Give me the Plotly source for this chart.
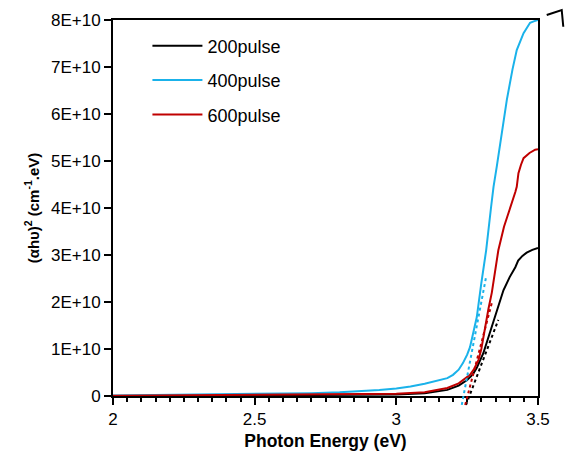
import plotly.graph_objects as go

# ---- data (values in absolute units) ----
x_200 = [2.0, 2.5, 2.94, 3.0, 3.1, 3.18, 3.22, 3.25, 3.27, 3.284, 3.307, 3.33, 3.355,
         3.378, 3.40, 3.42, 3.43, 3.445, 3.46, 3.48, 3.5]
y_200 = [0.0, 0.01e10, 0.02e10, 0.03e10, 0.06e10, 0.13e10, 0.22e10, 0.34e10, 0.46e10,
         0.60e10, 0.91e10, 1.34e10, 1.83e10, 2.25e10, 2.53e10, 2.74e10, 2.88e10, 2.98e10,
         3.05e10, 3.11e10, 3.15e10]

x_400 = [2.0, 2.2, 2.4, 2.6, 2.7, 2.8, 2.9, 2.94, 3.0, 3.05, 3.1, 3.15, 3.18, 3.2, 3.22,
         3.235, 3.25, 3.26, 3.27, 3.284, 3.30, 3.317, 3.334, 3.343, 3.355, 3.372, 3.39,
         3.41, 3.425, 3.449, 3.472, 3.485, 3.495, 3.5]
y_400 = [0.01e10, 0.02e10, 0.03e10, 0.05e10, 0.06e10, 0.08e10, 0.11e10, 0.13e10, 0.16e10,
         0.20e10, 0.26e10, 0.33e10, 0.38e10, 0.45e10, 0.56e10, 0.70e10, 0.88e10, 1.04e10,
         1.30e10, 1.68e10, 2.40e10, 3.10e10, 4.0e10, 4.45e10, 4.9e10, 5.6e10, 6.3e10,
         6.95e10, 7.36e10, 7.72e10, 7.94e10, 7.97e10, 7.98e10, 8.0e10]

x_600 = [2.0, 2.5, 2.8, 2.94, 3.0, 3.1, 3.18, 3.22, 3.26, 3.275, 3.29, 3.30, 3.313, 3.325,
         3.337, 3.35, 3.36, 3.38, 3.40, 3.42, 3.425, 3.431, 3.44, 3.449, 3.47, 3.49, 3.5]
y_600 = [0.005e10, 0.02e10, 0.03e10, 0.04e10, 0.05e10, 0.08e10, 0.17e10, 0.27e10, 0.45e10,
         0.58e10, 0.77e10, 1.0e10, 1.47e10, 1.85e10, 2.2e10, 2.7e10, 3.1e10, 3.6e10,
         3.95e10, 4.34e10, 4.45e10, 4.74e10, 4.92e10, 5.06e10, 5.17e10, 5.24e10, 5.25e10]

# tangent (Tauc) fit lines: [x0, x1], [y0, y1]
fit_200 = ([3.246, 3.36], [-0.19e10, 1.62e10])
fit_400 = ([3.231, 3.317], [-0.19e10, 2.54e10])
fit_600 = ([3.243, 3.337], [-0.19e10, 1.98e10])

names = ["200pulse", "400pulse", "600pulse"]
colors = ["#000000", "#1AB2EA", "#C00000"]

y_tickvals = [0, 1e10, 2e10, 3e10, 4e10, 5e10, 6e10, 7e10, 8e10]
y_ticktext = ["0", "1E+10", "2E+10", "3E+10", "4E+10", "5E+10", "6E+10", "7E+10", "8E+10"]
x_tickvals = [2, 2.5, 3, 3.5]
x_ticktext = ["2", "2.5", "3", "3.5"]
Y_MAX = 8e10
X_RANGE = [2, 3.5]

FONT = "Liberation Sans, Arial, sans-serif"

fig = go.Figure()
for i, (xs, ys) in enumerate([(x_200, y_200), (x_400, y_400), (x_600, y_600)]):
    fig.add_trace(go.Scatter(
        x=xs, y=ys, mode="lines", name=names[i], legendgroup=names[i],
        line=dict(color=colors[i], width=2),
    ))

# dotted tangent lines as shapes (x in data units, y converted via axis range)
for (fx, fy), c in zip([fit_200, fit_400, fit_600], colors):
    fig.add_shape(type="line", xref="x", yref="paper",
                  x0=fx[0], x1=fx[1], y0=fy[0] / Y_MAX, y1=fy[1] / Y_MAX,
                  line=dict(color=c, width=2, dash="dot"), layer="above")

# stray mark at top right of the original figure
fig.add_shape(type="path", xref="paper", yref="paper",
              path="M1.0205,1.0133 L1.0558,1.0266 L1.0595,0.982",
              line=dict(color="black", width=2))

fig.update_layout(
    width=565, height=459,
    margin=dict(l=113, r=27, t=20, b=63),
    paper_bgcolor="white", plot_bgcolor="white",
    font=dict(family=FONT, size=17, color="black"),
    showlegend=True,
    legend=dict(x=0.081, y=0.98, xanchor="left", yanchor="top",
                bgcolor="rgba(0,0,0,0)", font=dict(size=18, family=FONT),
                tracegroupgap=8, itemwidth=50),
)
fig.update_xaxes(
    range=X_RANGE, tickvals=x_tickvals, ticktext=x_ticktext, automargin=False,
    ticks="outside", ticklen=7, tickwidth=2, tickcolor="black",
    showline=True, linecolor="black", linewidth=2, mirror=True,
    showgrid=False, zeroline=False,
    minor=dict(dtick=0.05, ticks="outside", ticklen=4, tickwidth=1.5, tickcolor="black"),
    tickfont=dict(size=17, family=FONT),
    title=dict(text="<b>Photon Energy (eV)</b>", font=dict(size=17.5, family=FONT), standoff=6),
)
fig.update_yaxes(
    range=[0, Y_MAX], tickvals=y_tickvals, ticktext=y_ticktext, automargin=False,
    ticks="outside", ticklen=7, tickwidth=2, tickcolor="black",
    showline=True, linecolor="black", linewidth=2, mirror=True,
    showgrid=False, zeroline=False,
    tickfont=dict(size=17, family=FONT),
    title=dict(text="<b>(αhυ)<sup>2</sup> (cm<sup>-1</sup>.eV)</b>",
               font=dict(size=15, family=FONT), standoff=8),
)

fig.write_html("out.html", config={"displayModeBar": False},
               post_script="document.body.style.margin='0';")
